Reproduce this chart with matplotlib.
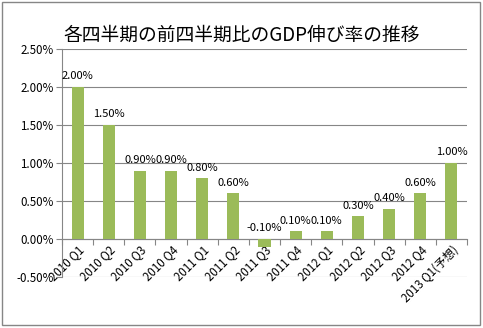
import numpy as np
import matplotlib
matplotlib.use("Agg")
import matplotlib.pyplot as plt
from matplotlib.patches import Rectangle
from matplotlib.ticker import FuncFormatter, FixedLocator

plt.rcParams['font.family'] = ['Noto Sans CJK JP', 'DejaVu Sans']

title = '各四半期の前四半期比のGDP伸び率の推移'
quarters = ['2010 Q1', '2010 Q2', '2010 Q3', '2010 Q4',
            '2011 Q1', '2011 Q2', '2011 Q3', '2011 Q4',
            '2012 Q1', '2012 Q2', '2012 Q3', '2012 Q4',
            '2013 Q1(予想)']
growth = [2.0, 1.5, 0.9, 0.9, 0.8, 0.6, -0.1, 0.1, 0.1, 0.3, 0.4, 0.6, 1.0]

bar_color = '#9BBB59'
line_color = '#868686'

fig = plt.figure(figsize=(4.83, 3.28), dpi=100)
ax = fig.add_axes([62 / 483, 51 / 328, 405 / 483, 228 / 328])

x = np.arange(len(quarters))
ax.bar(x, growth, width=0.39, color=bar_color, zorder=3)

# value labels sit above the bar, or above the zero line for negatives
for xi, v in zip(x, growth):
    ax.annotate(f'{v:.2f}%', (xi, max(v, 0)), xytext=(0, 4),
                textcoords='offset points', ha='center', va='bottom',
                fontsize=8, color='black')

ax.set_xlim(-0.5, len(quarters) - 0.5)
ax.set_ylim(-0.5, 2.5)
ax.set_yticks(np.arange(-0.5, 2.51, 0.5))
ax.yaxis.set_major_formatter(FuncFormatter(lambda v, p: f'{v:.2f}%'))
ax.yaxis.grid(True, color=line_color, linewidth=0.8, zorder=0)
ax.tick_params(axis='y', length=4, width=0.8, color=line_color,
               labelsize=8.3, pad=2)

ax.spines['bottom'].set_position(('data', 0))
for s in ['top', 'right']:
    ax.spines[s].set_visible(False)
for s in ['left', 'bottom']:
    ax.spines[s].set_color(line_color)
    ax.spines[s].set_linewidth(0.8)

ax.set_xticks(x)
ax.set_xticklabels(quarters, rotation=45, ha='right', va='top',
                   rotation_mode='anchor', fontsize=8.3)
ax.tick_params(axis='x', which='major', length=0, pad=3)
ax.xaxis.set_minor_locator(FixedLocator(np.arange(-0.5, len(quarters), 1.0)))
ax.tick_params(axis='x', which='minor', length=4, width=0.8, color=line_color)

fig.suptitle(title, x=0.5, y=0.925, fontsize=13.5)

fig.patches.append(Rectangle((2 / 483, 3 / 328), 478 / 483, 323 / 328,
                             transform=fig.transFigure, fill=False,
                             edgecolor=line_color, linewidth=1.0))

fig.savefig('out.png', dpi=100)
